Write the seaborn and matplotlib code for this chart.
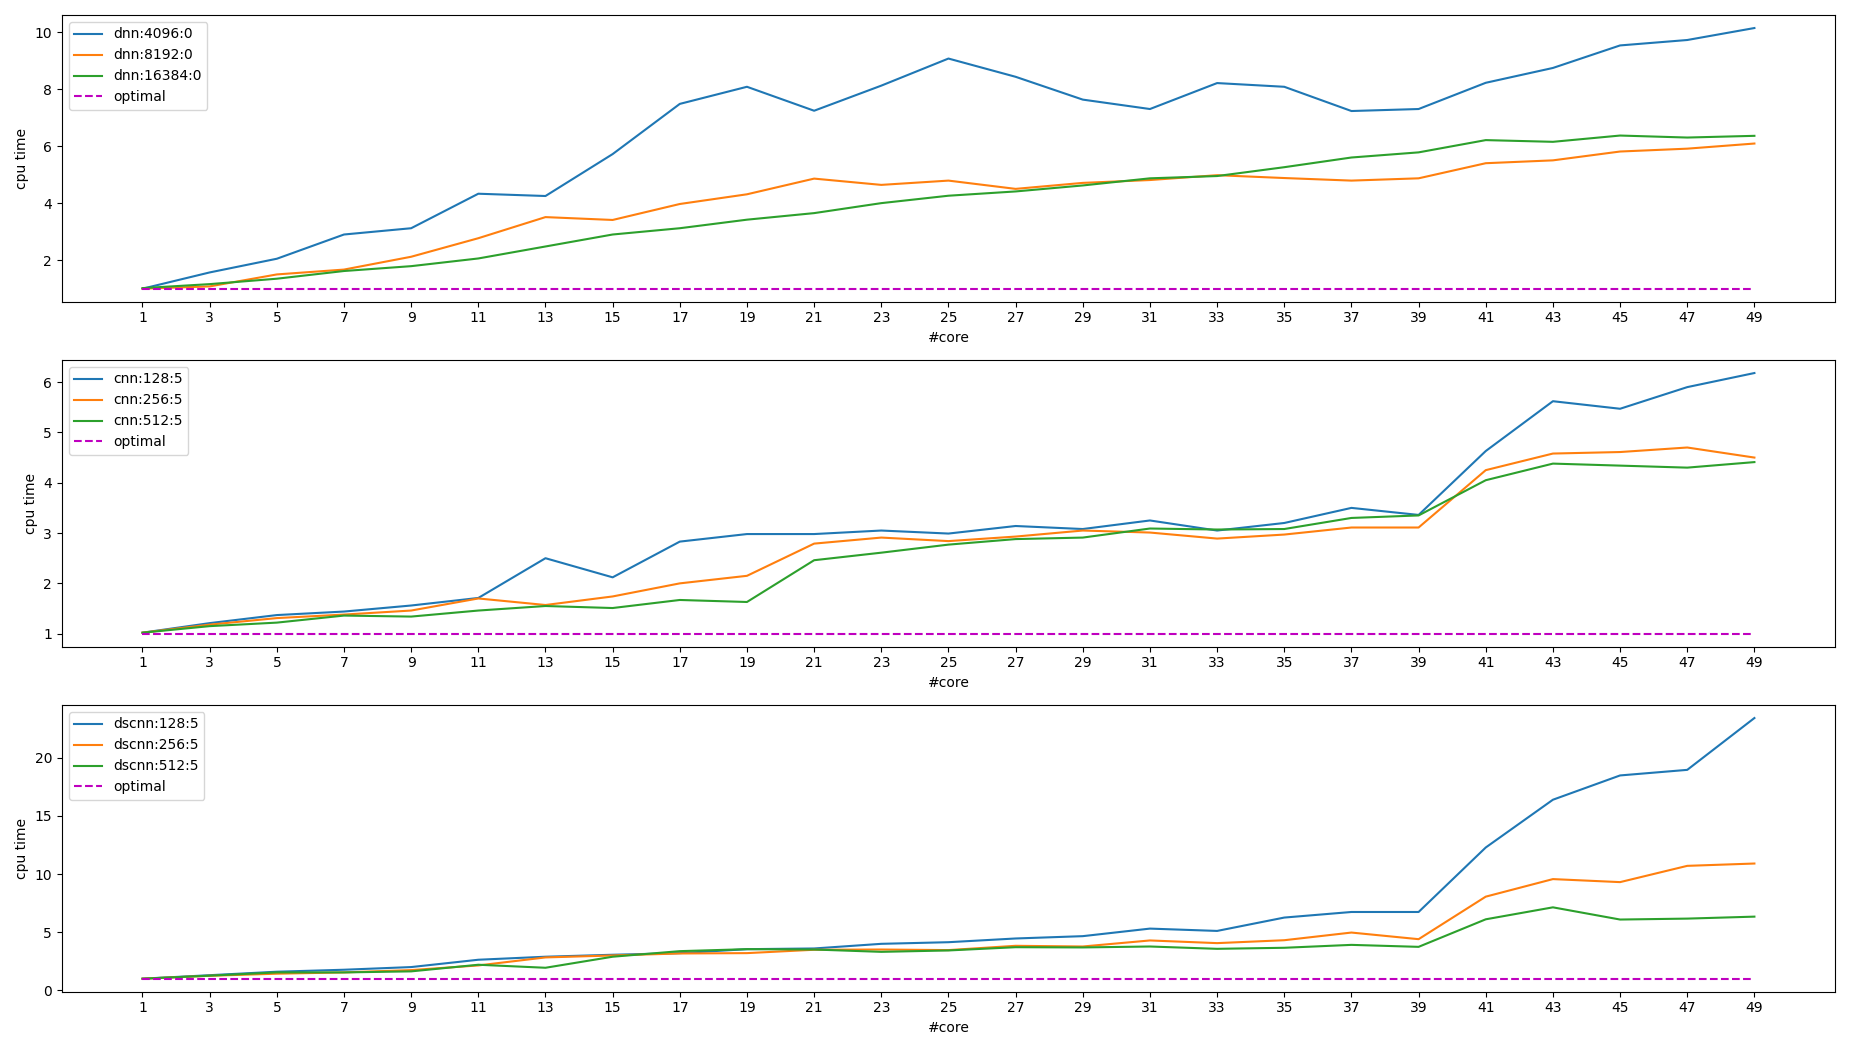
import numpy as np
import pandas as pd
import matplotlib
matplotlib.use("Agg")
import matplotlib.pyplot as plt
import seaborn as sns

# Core counts used in every run
cores = list(range(1, 50, 2))

# dnn results
dnn_4096 = [1.00, 1.57, 2.05, 2.90, 3.12, 4.33, 4.25, 5.72, 7.48, 8.08, 7.24, 8.12, 9.07,
            8.43, 7.63, 7.30, 8.21, 8.08, 7.23, 7.30, 8.22, 8.74, 9.53, 9.72, 10.14]
dnn_8192 = [1.00, 1.08, 1.50, 1.67, 2.12, 2.77, 3.51, 3.41, 3.97, 4.31, 4.86, 4.64, 4.79,
            4.50, 4.71, 4.81, 4.98, 4.88, 4.79, 4.87, 5.40, 5.50, 5.81, 5.91, 6.09]
dnn_16384 = [1.02, 1.16, 1.35, 1.62, 1.79, 2.06, 2.48, 2.90, 3.12, 3.42, 3.65, 4.00, 4.26,
             4.41, 4.62, 4.87, 4.95, 5.26, 5.60, 5.78, 6.21, 6.15, 6.37, 6.30, 6.36]

# cnn results
cnn_128 = [1.02, 1.21, 1.37, 1.44, 1.56, 1.71, 2.50, 2.12, 2.83, 2.98, 2.98, 3.05, 2.99,
           3.14, 3.08, 3.25, 3.05, 3.20, 3.50, 3.36, 4.63, 5.62, 5.47, 5.90, 6.18]
cnn_256 = [1.02, 1.18, 1.31, 1.38, 1.46, 1.70, 1.57, 1.74, 2.00, 2.15, 2.79, 2.91, 2.84,
           2.93, 3.05, 3.01, 2.89, 2.97, 3.11, 3.11, 4.25, 4.58, 4.61, 4.70, 4.50]
cnn_512 = [1.02, 1.15, 1.22, 1.36, 1.34, 1.46, 1.55, 1.51, 1.67, 1.63, 2.46, 2.61, 2.77,
           2.88, 2.91, 3.09, 3.07, 3.08, 3.30, 3.35, 4.05, 4.38, 4.34, 4.30, 4.41]

# dscnn results
dscnn_128 = [1.00, 1.30, 1.60, 1.77, 2.00, 2.63, 2.89, 3.06, 3.20, 3.54, 3.60, 4.00, 4.14,
             4.46, 4.66, 5.31, 5.11, 6.26, 6.74, 6.74, 12.29, 16.40, 18.49, 18.97, 23.43]
dscnn_256 = [1.00, 1.25, 1.43, 1.54, 1.74, 2.14, 2.83, 3.00, 3.17, 3.20, 3.49, 3.51, 3.46,
             3.83, 3.77, 4.29, 4.06, 4.31, 4.97, 4.40, 8.06, 9.57, 9.31, 10.71, 10.91]
dscnn_512 = [1.00, 1.26, 1.54, 1.54, 1.63, 2.20, 1.94, 2.89, 3.37, 3.54, 3.51, 3.31, 3.43,
             3.71, 3.69, 3.77, 3.57, 3.66, 3.91, 3.74, 6.11, 7.14, 6.09, 6.17, 6.34]

# Ideal scaling: cpu time stays at 1
optimal = [1.0] * len(cores)

panels = [
    [("dnn:4096:0", dnn_4096), ("dnn:8192:0", dnn_8192), ("dnn:16384:0", dnn_16384)],
    [("cnn:128:5", cnn_128), ("cnn:256:5", cnn_256), ("cnn:512:5", cnn_512)],
    [("dscnn:128:5", dscnn_128), ("dscnn:256:5", dscnn_256), ("dscnn:512:5", dscnn_512)],
]
colors = ["tab:blue", "tab:orange", "tab:green"]

fig, axes = plt.subplots(3, 1, figsize=(18.5, 10.5), dpi=100)

for ax, series in zip(axes, panels):
    for (name, values), c in zip(series, colors):
        df = pd.DataFrame({"core": cores, "time": values})
        sns.lineplot(data=df, x="core", y="time", ax=ax, color=c, label=name, linewidth=1.5)
    sns.lineplot(x=cores, y=optimal, ax=ax, color="m", linestyle="--", label="optimal", linewidth=1.5)
    ax.set_xticks(cores)
    ax.set_xlabel("#core")
    ax.set_ylabel("cpu time")
    ax.legend(loc="upper left")

plt.tight_layout()
plt.savefig("out.png")
plt.close()
